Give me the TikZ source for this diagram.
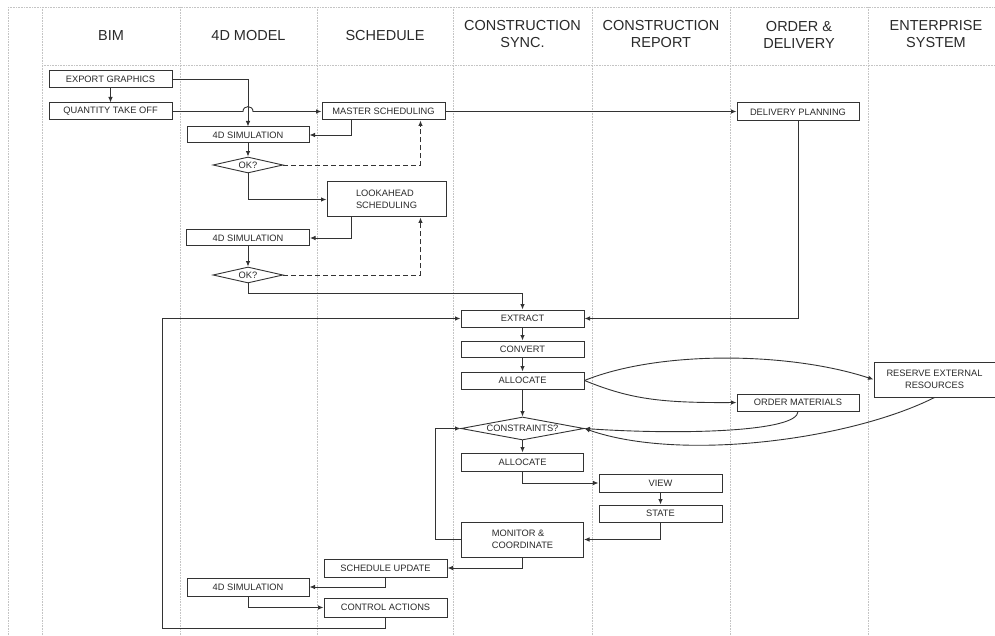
\documentclass[tikz,border=0pt]{standalone}
\usepackage{fontspec}
\setmainfont{Liberation Sans}
\usetikzlibrary{shapes.geometric,arrows.meta,calc}
\definecolor{lnc}{HTML}{333333}
\definecolor{lanec}{HTML}{C4C4C4}
\definecolor{txc}{HTML}{2A2A2A}
\tikzset{
  box/.style={draw=lnc,line width=1pt,rectangle,inner sep=0pt,text=txc,font=\fontsize{9.3}{12}\selectfont},
  dia/.style={draw=lnc,line width=0.9pt,diamond,aspect=4.5,inner sep=0pt,text=txc,font=\fontsize{9.3}{12}\selectfont},
  hdr/.style={text=txc,font=\fontsize{14.5}{17}\selectfont,align=center},
  lane/.style={draw=lanec,line width=0.6pt,densely dotted},
  arr/.style={draw=lnc,line width=0.9pt,-{Latex[length=5.5pt,width=4.5pt]}},
  dsh/.style={dash pattern=on 5pt off 3pt}
}
\begin{document}
\begin{tikzpicture}[x=1pt,y=-1pt]
\useasboundingbox (0,0) rectangle (995,636);
\fill[white] (0,0) rectangle (995,636);
% lanes
\draw[lane] (8,7) -- (995,7);
\draw[lane] (42,65) -- (995,65);
\foreach \xx in {8,42,180,317,453,592,730,868} {\draw[lane] (\xx,7) -- (\xx,636);}
% headers
\node[hdr] (hbim) at (111,35.5) {BIM};
\node[hdr] (h4d) at (248.5,35.5) {4D MODEL};
\node[hdr] (hsch) at (385,35.5) {SCHEDULE};
\node[hdr] (hsync) at (522.5,34.5) {CONSTRUCTION\\SYNC.};
\node[hdr] (hrep) at (661,34.5) {CONSTRUCTION\\REPORT};
\node[hdr] (hord) at (799,34.5) {ORDER \&\\DELIVERY};
\node[hdr] (hent) at (936,34.5) {ENTERPRISE\\SYSTEM};
% nodes
\node[box,minimum width=123,minimum height=17] (eg) at (110.5,79.5) {EXPORT GRAPHICS};
\node[box,minimum width=123,minimum height=17] (qto) at (110.5,111.5) {QUANTITY TAKE OFF};
\node[box,minimum width=123,minimum height=17] (ms) at (383.5,111.5) {MASTER SCHEDULING};
\node[box,minimum width=122,minimum height=18] (dp) at (798,112) {DELIVERY PLANNING};
\node[box,minimum width=122,minimum height=16] (sim1) at (248,135) {4D SIMULATION};
\node[dia,minimum width=70,minimum height=16] (ok1) at (248,165) {OK?};
\node[box,minimum width=119,minimum height=35,align=left] (la) at (386.5,199.5) {LOOKAHEAD\\SCHEDULING};
\node[box,minimum width=123,minimum height=16] (sim2) at (248,238) {4D SIMULATION};
\node[dia,minimum width=70,minimum height=16] (ok2) at (248,275) {OK?};
\node[box,minimum width=123,minimum height=17] (ex) at (522.5,318.5) {EXTRACT};
\node[box,minimum width=123,minimum height=16] (cv) at (522.5,349) {CONVERT};
\node[box,minimum width=123,minimum height=17] (al1) at (522.5,380.5) {ALLOCATE};
\node[dia,aspect=5.3,minimum width=123,minimum height=23] (cons) at (522.5,428.5) {CONSTRAINTS?};
\node[box,minimum width=122,minimum height=18] (al2) at (522.5,462) {ALLOCATE};
\node[box,minimum width=123,minimum height=18] (view) at (660.5,483) {VIEW};
\node[box,minimum width=123,minimum height=17] (state) at (660.5,513.5) {STATE};
\node[box,minimum width=122,minimum height=35,align=left] (mon) at (522.5,539.5) {MONITOR \&\\COORDINATE};
\node[box,minimum width=123,minimum height=18] (su) at (385.5,568) {SCHEDULE UPDATE};
\node[box,minimum width=122,minimum height=18] (sim3) at (248,587) {4D SIMULATION};
\node[box,minimum width=123,minimum height=19] (ca) at (385.5,607.5) {CONTROL ACTIONS};
\node[box,minimum width=122,minimum height=17] (om) at (798,402.5) {ORDER MATERIALS};
\node[box,minimum width=121,minimum height=35,align=center] (rer) at (934.5,379.5) {RESERVE EXTERNAL\\RESOURCES};
% helper coordinates
\coordinate (hopA) at (243,111.5);
\coordinate (hopB) at (253,111.5);
\coordinate (loop) at (162,628);
% connectors
\draw[arr] (eg) -- (qto);
\draw[arr] (eg.east) -| (sim1.north);
\draw[arr] (qto.east) -- (hopA) .. controls (243,105) and (253,105) .. (hopB) -- (ms.west);
\draw[arr] (ms.east) -- (ms.east -| dp.west);
\draw[arr] ($(ms.south west)+(30,0)$) |- (sim1.east);
\draw[arr] (sim1) -- (ok1);
\draw[arr,dsh] (ok1.east) -| ($(ms.south east)+(-25,0)$);
\draw[arr] (ok1.south) |- (la.west);
\draw[arr] ($(la.south west)+(25,0)$) |- (sim2.east);
\draw[arr] (sim2) -- (ok2);
\draw[arr,dsh] (ok2.east) -| ($(la.south east)+(-26,0)$);
\draw[arr] (ok2.south) -- ++(0,10) -| (ex.north);
\draw[arr] (dp.south) |- (ex.east);
\draw[arr] (ex) -- (cv);
\draw[arr] (cv) -- (al1);
\draw[arr] (al1) -- (cons);
\draw[arr] (al1.east) .. controls (660,350) and (790,352) .. (rer.west);
\draw[arr] (al1.east) .. controls (630,399) and (660,403) .. (om.west);
\draw[arr] (om.south) .. controls (798,432) and (680,435) .. (cons.east);
\draw[arr] (rer.south) .. controls (850,440) and (680,462) .. (cons.east);
\draw[arr] (cons) -- (al2);
\draw[arr] (al2.south) |- (view.west);
\draw[arr] (view) -- (state);
\draw[arr] (state.south) |- (mon.east);
\draw[arr] (mon.west) -- ++(-26,0) |- (cons.west);
\draw[arr] (mon.south) |- (su.east);
\draw[arr] (su.south) |- (sim3.east);
\draw[arr] (sim3.south) |- (ca.west);
\draw[arr] (ca.south) |- (loop) |- (ex.west);
\end{tikzpicture}
\end{document}
